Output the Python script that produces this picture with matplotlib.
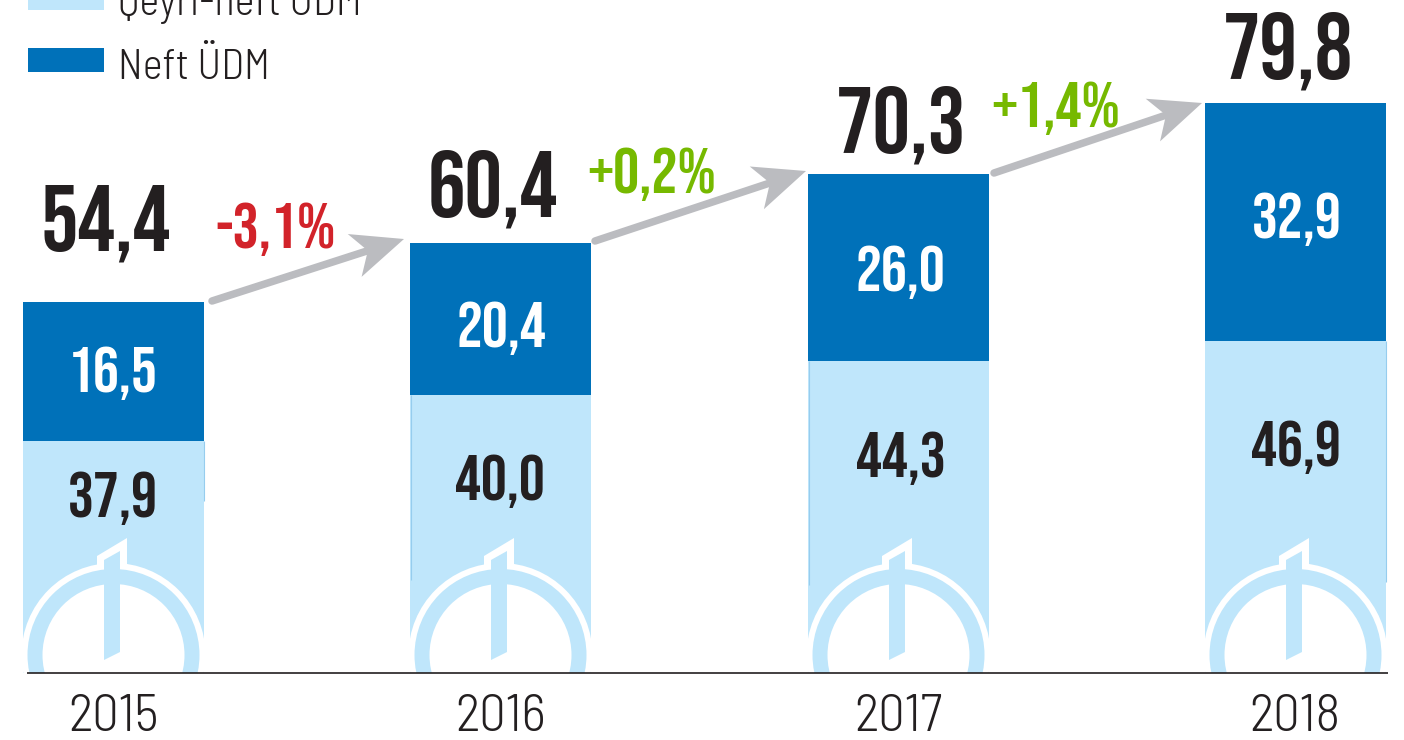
import numpy as np
import matplotlib
matplotlib.use("Agg")
import matplotlib.pyplot as plt
from matplotlib.patches import Polygon, Ellipse, Rectangle

years = ["2015", "2016", "2017", "2018"]
nonoil_labels = ["37,9", "40,0", "44,3", "46,9"]
oil_labels = ["16,5", "20,4", "26,0", "32,9"]
total_labels = ["54,4", "60,4", "70,3", "79,8"]
growth_labels = ["-3,1%", "+0,2%", "+1,4%"]
# Segment heights as drawn in the picture (the original is not strictly to scale)
nonoil_drawn = [32.5, 39.0, 43.8, 46.6]
oil_drawn = [19.5, 21.3, 26.2, 33.4]

LIGHT = "#bfe6fb"
BLUE = "#0071b9"
DARK = "#231f20"
GRAY = "#bbbcc0"
RED = "#d2232a"
GREEN = "#76b900"
EDGE = "#96cdee"
BOLD = ["Bebas Neue", "DejaVu Sans"]
REG = ["Barlow Semi Condensed", "DejaVu Sans"]
PX = 7.13
BASE = 673

def Y(py):
    return (BASE - py) / PX

def P(x, py):
    return (x, Y(py))

fig = plt.figure(figsize=(14.04, 7.40), dpi=100, facecolor="white")
ax = fig.add_axes([0, 0, 1, 1])
ax.set_xlim(0, 1404)
ax.set_ylim(Y(740), Y(0))
ax.axis("off")

bar_x = [113.5, 500.5, 898.5, 1295.5]
bar_w = 181
ax.bar(bar_x, nonoil_drawn, width=bar_w, color=LIGHT, zorder=2)
ax.bar(bar_x, oil_drawn, bottom=nonoil_drawn, width=bar_w, color=BLUE, zorder=2)

# thin darker seam along one side of each light segment
seam_x = [203.5, 410.5, 808.5, 1385.5]
seam_end = [501, 580, 585, 582]
for x, top, end in zip(seam_x, nonoil_drawn, seam_end):
    ax.plot([x, x], [top, Y(end)], color=EDGE, lw=0.8, zorder=2.5, solid_capstyle="butt")

# logo on the foot of every bar, cut at the baseline
clip = Rectangle((0, 0), 1404, Y(0), transform=ax.transData)
for cx in bar_x:
    cy = Y(655)
    for r, col, z in [(92, "white", 3), (86, LIGHT, 3.1), (71, "white", 3.2)]:
        e = Ellipse((cx, cy), 2 * r, 2 * r / PX, color=col, zorder=z, lw=0)
        ax.add_patch(e)
        e.set_clip_path(clip)
    d = cx - 113.5
    ax.add_patch(Polygon([P(97 + d, 556), P(127 + d, 538), P(127 + d, 566), P(97 + d, 566)],
                         closed=True, color="white", lw=0, zorder=3))
    ax.add_patch(Polygon([P(104 + d, 560), P(120 + d, 551), P(120 + d, 652), P(104 + d, 660)],
                         closed=True, color=LIGHT, lw=0, zorder=3.3))

ax.plot([27, 1388], [0, 0], color=DARK, lw=1.2, zorder=5, solid_capstyle="butt")

year_x = [113, 501, 898, 1295]
for i, x in enumerate(year_x):
    ax.text(x, Y(731), years[i], ha="center", va="baseline", fontsize=38, color=DARK, family=REG,
            weight=300, zorder=6)

non_x = [113, 500, 901, 1296]
non_y = [517, 500, 477, 466]
oil_x = [113, 501, 900, 1297]
oil_y = [392, 347, 291, 238]
tot_x = [106, 493, 901, 1288]
tot_y = [251, 217, 153, 78]
for i in range(4):
    ax.text(non_x[i], Y(non_y[i]), nonoil_labels[i], ha="center", va="baseline", fontsize=46.5,
            color=DARK, family=BOLD, weight="bold", zorder=6)
    ax.text(oil_x[i], Y(oil_y[i]), oil_labels[i], ha="center", va="baseline", fontsize=46.5,
            color="white", family=BOLD, weight="bold", zorder=6)
    ax.text(tot_x[i], Y(tot_y[i]), total_labels[i], ha="center", va="baseline", fontsize=67.5,
            color=DARK, family=BOLD, weight="bold", zorder=6)

starts = [(212, 301), (595, 241), (994, 173)]
ends = [(404, 239), (806, 171), (1202, 103)]
for (x0, y0), (x1, y1) in zip(starts, ends):
    s = np.array([x0, y0], float)
    e = np.array([x1, y1], float)
    u = (e - s) / np.hypot(*(e - s))
    n = np.array([-u[1], u[0]])
    neck = e - u * 38
    ax.plot([s[0], neck[0]], [Y(s[1]), Y(neck[1])], color=GRAY, lw=5.4, solid_capstyle="round", zorder=4)
    pts = [e - u * 52 + n * 23, e, e - u * 52 - n * 22, neck]
    ax.add_patch(Polygon([P(p[0], p[1]) for p in pts], closed=True, color=GRAY, lw=0, zorder=4))

growth_pos = [(276, 248, RED), (652, 193, GREEN), (1056, 127, GREEN)]
for lab, (x, y, c) in zip(growth_labels, growth_pos):
    ax.text(x, Y(y), lab, ha="center", va="baseline", fontsize=47, color=c, family=BOLD, weight="bold", zorder=6)

# legend, partly cut off by the top edge as in the picture
ax.add_patch(Rectangle((28, Y(10)), 76, Y(-20) - Y(10), color=LIGHT, lw=0))
ax.add_patch(Rectangle((28, Y(72)), 76, Y(48) - Y(72), color=BLUE, lw=0))
ax.text(118, Y(15), "Qeyri-neft ÜDM", ha="left", va="baseline", fontsize=30.5, color=DARK, family=REG, weight=300)
ax.text(118, Y(79), "Neft ÜDM", ha="left", va="baseline", fontsize=30.5, color=DARK, family=REG, weight=300)

fig.savefig("out.png", dpi=100, facecolor="white")
